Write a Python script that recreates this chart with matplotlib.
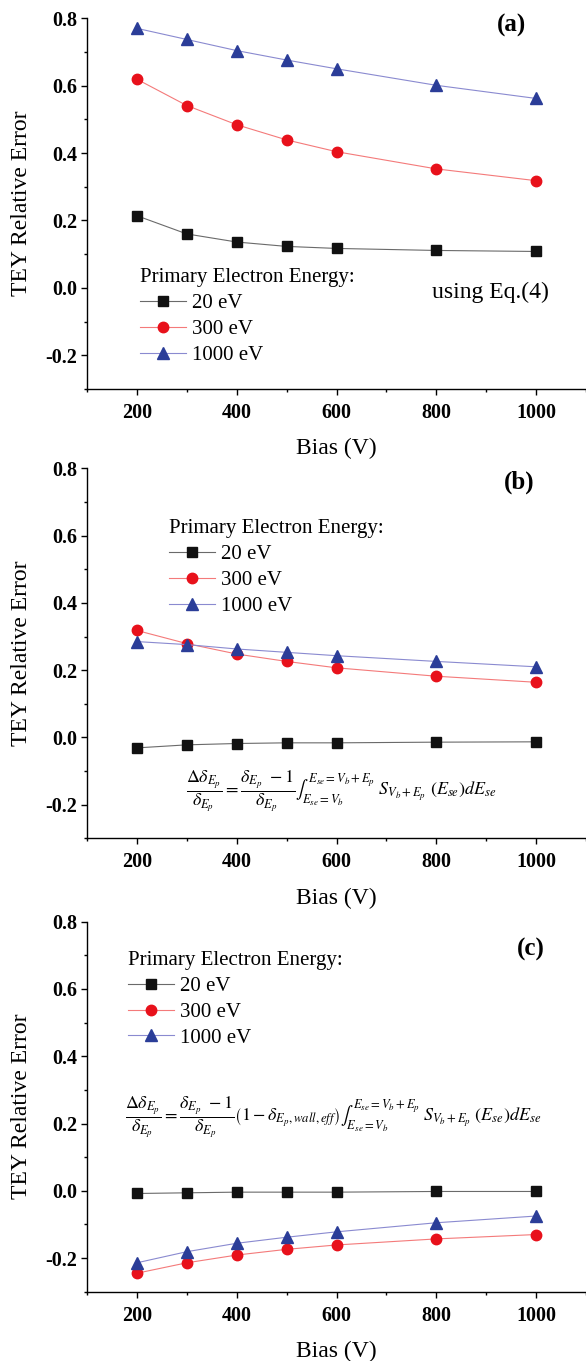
"""TEY relative error vs bias, three panels (a)-(c)."""
import matplotlib
matplotlib.use("Agg")
import matplotlib.pyplot as plt
from matplotlib.ticker import MultipleLocator, FormatStrFormatter

plt.rcParams["font.family"] = "serif"
plt.rcParams["font.serif"] = ["Liberation Serif", "DejaVu Serif"]
plt.rcParams["mathtext.fontset"] = "stix"
plt.rcParams["axes.unicode_minus"] = False

bias = [200, 300, 400, 500, 600, 800, 1000]
energy_labels = ["20 eV", "300 eV", "1000 eV"]

# panel (a): using Eq.(4)
err_a_20 = [0.214, 0.160, 0.136, 0.123, 0.117, 0.111, 0.108]
err_a_300 = [0.619, 0.541, 0.484, 0.439, 0.404, 0.353, 0.318]
err_a_1000 = [0.770, 0.737, 0.704, 0.676, 0.650, 0.601, 0.562]

# panel (b)
err_b_20 = [-0.031, -0.022, -0.018, -0.016, -0.016, -0.014, -0.013]
err_b_300 = [0.318, 0.279, 0.248, 0.226, 0.207, 0.182, 0.164]
err_b_1000 = [0.285, 0.276, 0.263, 0.253, 0.243, 0.226, 0.210]

# panel (c)
err_c_20 = [-0.008, -0.006, -0.004, -0.004, -0.004, -0.002, -0.002]
err_c_300 = [-0.245, -0.214, -0.191, -0.174, -0.161, -0.143, -0.130]
err_c_1000 = [-0.214, -0.181, -0.156, -0.138, -0.122, -0.095, -0.075]

eq_b = (r"$\dfrac{\Delta\delta_{E_p}}{\delta_{E_p}}=\dfrac{\delta_{E_p}\ -1}{\delta_{E_p}}"
        r"\int_{E_{se}=V_b}^{E_{se}=V_b+E_p}\ S_{V_b+E_p}\ \left(E_{se}\right)dE_{se}$")
eq_c = (r"$\dfrac{\Delta\delta_{E_p}}{\delta_{E_p}}=\dfrac{\delta_{E_p}\ -1}{\delta_{E_p}}"
        r"\left(1-\delta_{E_p,wall,eff}\right)"
        r"\int_{E_{se}=V_b}^{E_{se}=V_b+E_p}\ S_{V_b+E_p}\ \left(E_{se}\right)dE_{se}$")

styles = [
    dict(marker="s", color="#6a6a6a", mfc="#111111", mec="#111111", ms=6.5),
    dict(marker="o", color="#f47a7a", mfc="#e8111b", mec="#e8111b", ms=7.5),
    dict(marker="^", color="#8a8ad0", mfc="#2b3d98", mec="#2b3d98", ms=8),
]


def draw_panel(fig, rect, series, tag, tag_xy, legend_xy):
    ax = fig.add_axes(rect)
    for vals, st, lab in zip(series, styles, energy_labels):
        ax.plot(bias, vals, lw=0.8, label=lab, **st)
    ax.set_xlim(100, 1100)
    ax.set_ylim(-0.3, 0.8)
    ax.xaxis.set_major_locator(MultipleLocator(200))
    ax.xaxis.set_minor_locator(MultipleLocator(100))
    ax.yaxis.set_major_locator(MultipleLocator(0.2))
    ax.yaxis.set_minor_locator(MultipleLocator(0.1))
    ax.yaxis.set_major_formatter(FormatStrFormatter("%.1f"))
    ax.spines[["top", "right"]].set_visible(False)
    for s in ("left", "bottom"):
        ax.spines[s].set_linewidth(1.0)
    ax.tick_params(which="major", direction="out", length=4, width=1.0, labelsize=14.5)
    ax.tick_params(which="minor", direction="out", length=2.5, width=1.0)
    ax.tick_params(axis="x", which="major", pad=6)
    ax.tick_params(axis="y", which="major", pad=3)
    for lbl in ax.get_xticklabels() + ax.get_yticklabels():
        lbl.set_fontweight("bold")
    ax.set_xlabel("Bias (V)", fontsize=17, labelpad=11)
    ax.set_ylabel("TEY Relative Error", fontsize=17, labelpad=10)
    ax.text(*tag_xy, tag, fontsize=18, fontweight="bold", ha="center", va="center")
    leg = ax.legend(title="Primary Electron Energy:", loc="upper left", bbox_to_anchor=legend_xy,
                    frameon=False, fontsize=15, title_fontsize=15, handlelength=2.2,
                    handletextpad=0.3, labelspacing=0.3, borderpad=0, borderaxespad=0)
    leg._legend_box.align = "left"
    return ax


fig = plt.figure(figsize=(5.86, 13.61), dpi=100)

ax_a = draw_panel(fig, [0.1485, 0.7142, 0.8515, 0.2724], [err_a_20, err_a_300, err_a_1000],
                  "(a)", (951, 0.78), (0.106, 0.325))
ax_a.text(908, -0.014, "using Eq.(4)", fontsize=17, ha="center", va="center")

ax_b = draw_panel(fig, [0.1485, 0.3840, 0.8515, 0.2719], [err_b_20, err_b_300, err_b_1000],
                  "(b)", (967, 0.759), (0.164, 0.862))
ax_b.text(610, -0.159, eq_b, fontsize=13, ha="center", va="center")

ax_c = draw_panel(fig, [0.1485, 0.0509, 0.8515, 0.2719], [err_c_20, err_c_300, err_c_1000],
                  "(c)", (990, 0.717), (0.082, 0.920))
ax_c.text(594, 0.22, eq_c, fontsize=13, ha="center", va="center")

fig.savefig("out.png", dpi=100)
